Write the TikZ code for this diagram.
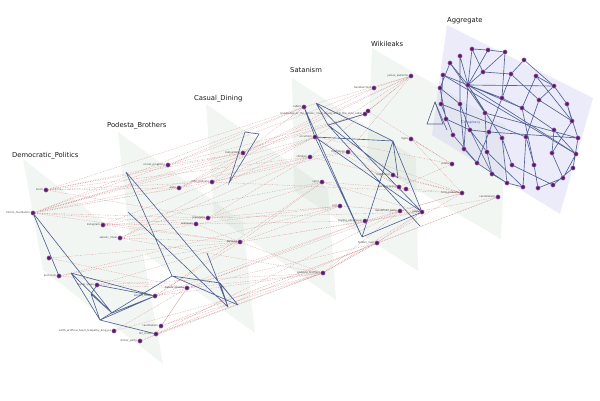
\documentclass[tikz,border=0pt]{standalone}
\usepackage{fontspec}
\setmainfont{DejaVu Sans}
\usepackage{tikz}
\usetikzlibrary{positioning}
\definecolor{layergreen}{RGB}{195,212,195}
\definecolor{agglav}{RGB}{205,205,240}
\definecolor{vtxpurple}{RGB}{88,24,105}
\definecolor{vtxring}{RGB}{150,100,170}
\definecolor{edgeblue}{RGB}{82,100,148}
\definecolor{dotred}{RGB}{214,160,160}
\definecolor{lblgray}{RGB}{70,70,70}
\definecolor{consblue}{RGB}{80,96,176}
\pgfdeclarelayer{planes}
\pgfdeclarelayer{edges}
\pgfsetlayers{planes,edges,main}
\tikzset{
    plane/.style={fill=layergreen, fill opacity=0.22, draw=none},
    aggplane/.style={fill=agglav, fill opacity=0.4, draw=none},
    vtx/.style={circle, fill=vtxpurple, draw=vtxring, line width=0.5pt, inner sep=0pt, minimum size=4.2pt},
    lbl/.style={font=\fontsize{2.6}{3}\selectfont, text=lblgray, inner sep=0.5pt},
    intra/.style={draw=edgeblue, line width=0.65pt},
    inter/.style={draw=dotred, line width=0.35pt, dash pattern=on 0.8pt off 0.9pt},
    layertitle/.style={font=\fontsize{6.8}{7.5}\selectfont, text=black!90, inner sep=0pt},
}

\begin{document}
\begin{tikzpicture}[x=1pt, y=-1pt]
    \useasboundingbox (0,0) rectangle (600,400);
    % layer planes
    \begin{pgfonlayer}{planes}
        \fill[plane] (23,159) -- (143,253) -- (163,364) -- (43,270) -- cycle;
        \fill[plane] (118,132) -- (243,222) -- (255,333) -- (130,243) -- cycle;
        \fill[plane] (206,104) -- (328,189) -- (336,300) -- (214,215) -- cycle;
        \fill[plane] (292,78) -- (416,158) -- (418,271) -- (294,191) -- cycle;
        \fill[plane] (372,48) -- (506,126) -- (501,239) -- (367,161) -- cycle;
        \fill[aggplane] (447,25) -- (593,98) -- (560,214) -- (432,135) -- cycle;
    \end{pgfonlayer}
    \coordinate (demcorner) at (23,159);
    \coordinate (podcorner) at (118,132);
    \coordinate (cascorner) at (206,104);
    \coordinate (satcorner) at (292,78);
    \coordinate (wikcorner) at (372,48);
    \coordinate (aggcorner) at (447,25);
    \node[layertitle, anchor=south west, above right=0pt and -11pt of demcorner] (demtitle) {Democratic\_Politics};
    \node[layertitle, anchor=south west, above right=2.5pt and -11pt of podcorner] (podtitle) {Podesta\_Brothers};
    \node[layertitle, anchor=south west, above right=2.2pt and -12pt of cascorner] (castitle) {Casual\_Dining};
    \node[layertitle, anchor=south west, above right=5.7pt and -2pt of satcorner] (sattitle) {Satanism};
    \node[layertitle, anchor=south west, above right=1.7pt and -1pt of wikcorner] (wiktitle) {Wikileaks};
    \node[layertitle, anchor=south west, above right=1.2pt and 0pt of aggcorner] (aggtitle) {Aggregate};

    % Democratic_Politics
    \node[vtx, label={[lbl]left:lunch}] (lunch) at (46,190) {};
    \node[vtx, label={[lbl]left:clinton\_foundation}] (clinton) at (33,213) {};
    \node[vtx, label={[lbl]left:instagram}] (instagram) at (103,225) {};
    \node[vtx, label={[lbl]left:satanic\_ritual}] (ritual) at (120,238) {};
    \node[vtx] (anon) at (49,258) {};
    \node[vtx, label={[lbl]left:protocols}] (protocols) at (59,276) {};
    \node[vtx, label={[lbl]left:higher\_stage}] (higher) at (97,285) {};
    \node[vtx, label={[lbl]left:donald\_trump}] (donald) at (155,296) {};
    \node[vtx, label={[lbl]left:cannibalism}] (canniba) at (161,326) {};
    \node[vtx, label={[lbl]left:earth\_artificial\_heart\_telepathy\_king\_pa}] (earth) at (114,331) {};
    \node[vtx, label={[lbl]left:bill\_clinton}] (bill) at (156,334) {};
    \node[vtx, label={[lbl]left:dinner\_party}] (dinner) at (140,341) {};
    \coordinate (dA) at (71,273);
    \coordinate (dB) at (91,294);
    \coordinate (dC) at (100,320);
    \coordinate (dD) at (112,313);

    % Podesta_Brothers
    \node[vtx, label={[lbl]left:comet\_pingpong}] (comet) at (168,165) {};
    \node[vtx, label={[lbl]left:alefa}] (alefa) at (179,188) {};
    \node[vtx, label={[lbl]left:john\_podesta}] (johnp) at (212,182) {};
    \node[vtx, label={[lbl]left:pizzagate}] (pizzagate) at (208,218) {};
    \node[vtx, label={[lbl]left:wikileaks}] (wleaks) at (196,224) {};
    \node[vtx, label={[lbl]left:barack\_obama}] (barack) at (187,288) {};
    \coordinate (pA) at (126,172);
    \coordinate (pB) at (172,276);
    \coordinate (pC) at (128,212);
    \coordinate (pD) at (228,307);
    \coordinate (pE) at (238,305);
    \coordinate (pF) at (207,253);
    \coordinate (pG) at (220,283);

    % Casual_Dining
    \node[vtx, label={[lbl]left:babysitting}] (blog) at (243,153) {};
    \node[vtx, label={[lbl]left:pizzeria}] (cuisine) at (240,242) {};
    \node[vtx, label={[lbl]left:podesta\_brothers}] (podbro) at (323,273) {};
    \coordinate (cA) at (245,132);
    \coordinate (cB) at (259,134);
    \coordinate (cC) at (229,183);

    % Satanism
    \node[vtx, label={[lbl]left:rabbit}] (rabbit) at (304,107) {};
    \node[vtx, label={[lbl]left:knowledge\_of\_the\_satanic\_ritual\_abuse\_within\_the\_elite\_cabal}] (knowA) at (365,114) {};
    \node[vtx] (knowB) at (368,111) {};
    \node[vtx, label={[lbl]left:handkerchief}] (handk) at (374,88) {};
    \node[vtx, label={[lbl]left:occultism}] (occult) at (315,137) {};
    \node[vtx, label={[lbl]left:hype}] (hypn) at (411,139) {};
    \node[vtx, label={[lbl]left:mythology}] (myth) at (348,152) {};
    \node[vtx, label={[lbl]left:children}] (children) at (310,157) {};
    \node[vtx, label={[lbl]left:spirit}] (spirit) at (322,182) {};
    \node[vtx, label={[lbl]left:cult}] (cult) at (340,206) {};
    \node[vtx, label={[lbl]left:marina\_abramovic}] (marina) at (365,221) {};
    \node[vtx, label={[lbl]left:hidden\_map}] (hidden) at (377,243) {};
    \coordinate (sA) at (316,103);
    \coordinate (sB) at (328,125);
    \coordinate (sC) at (393,141);
    \coordinate (sD) at (398,178);
    \coordinate (sE) at (362,237);
    \coordinate (sF) at (420,226);

    % Wikileaks
    \node[vtx, label={[lbl]left:james\_alefantis}] (james) at (411,76) {};
    \node[vtx, label={[lbl]left:baphomet}] (tamb) at (393,175) {};
    \node[vtx, label={[lbl]left:spirit\_cooking}] (spcook) at (399,187) {};
    \node[vtx] (spdin) at (406,189) {};
    \node[vtx, label={[lbl]left:republican\_party}] (repub) at (400,211) {};
    \node[vtx, label={[lbl]left:pizza}] (pizza) at (422,212) {};
    \node[vtx, label={[lbl]left:pasta}] (pasta) at (452,164) {};
    \node[vtx, label={[lbl]left:tony\_podesta}] (tony) at (462,193) {};
    \node[vtx, label={[lbl]left:cannibalism}] (cannw) at (498,197) {};
    \coordinate (wA) at (435,102);
    \coordinate (wB) at (427,124);
    \coordinate (wC) at (443,124);
    \coordinate (wD) at (447,130);

    % Aggregate
    \node[vtx] (g01) at (472,49) {};
    \node[vtx] (g02) at (488,50) {};
    \node[vtx] (g03) at (505,52) {};
    \node[vtx] (g04) at (460,56) {};
    \node[vtx] (g05) at (524,60) {};
    \node[vtx] (g06) at (450,63) {};
    \node[vtx] (g07) at (443,75) {};
    \node[vtx] (g08) at (483,72) {};
    \node[vtx] (g09) at (511,74) {};
    \node[vtx] (g10) at (536,76) {};
    \node[vtx] (g11) at (468,85) {};
    \node[vtx] (g12) at (554,86) {};
    \node[vtx] (g13) at (440,88) {};
    \node[vtx] (g14) at (502,98) {};
    \node[vtx] (g15) at (539,100) {};
    \node[vtx] (g16) at (460,104) {};
    \node[vtx] (g17) at (441,104) {};
    \node[vtx] (g18) at (567,104) {};
    \node[vtx] (g19) at (522,108) {};
    \node[vtx] (g20) at (485,113) {};
    \node[vtx] (g21) at (572,121) {};
    \node[vtx] (g22) at (446,119) {};
    \node[vtx] (g23) at (470,130) {};
    \node[vtx] (g24) at (489,132) {};
    \node[vtx] (g25) at (554,130) {};
    \node[vtx] (g26) at (453,135) {};
    \node[vtx] (g27) at (502,138) {};
    \node[vtx] (g28) at (526,137) {};
    \node[vtx] (g29) at (578,138) {};
    \node[vtx] (g30) at (464,149) {};
    \node[vtx] (g31) at (487,152) {};
    \node[vtx] (g32) at (552,153) {};
    \node[vtx] (g33) at (576,154) {};
    \node[vtx] (g34) at (477,163) {};
    \node[vtx] (g35) at (512,165) {};
    \node[vtx] (g36) at (534,165) {};
    \node[vtx] (g37) at (492,174) {};
    \node[vtx] (g38) at (573,168) {};
    \node[vtx] (g39) at (507,183) {};
    \node[vtx] (g40) at (563,178) {};
    \node[vtx] (g41) at (523,187) {};
    \node[vtx] (g42) at (538,188) {};
    \node[vtx] (g43) at (553,185) {};
    \node[font=\fontsize{3.4}{4}\selectfont, text=consblue, inner sep=0pt] (conspiracy) at (471,123) {Conspiracy};

    \begin{pgfonlayer}{edges}
        % coupling edges between layers
        \draw[inter] (clinton) -- (comet) (clinton) -- (alefa) (clinton) -- (johnp) (clinton) -- (pizzagate) (clinton) -- (blog) (clinton) -- (cuisine) (clinton) -- (occult) (clinton) -- (rabbit) (clinton) -- (children) (clinton) -- (knowA) (clinton) -- (wleaks);
        \draw[inter] (lunch) -- (comet) (lunch) -- (alefa) (lunch) -- (johnp) (lunch) -- (blog) (lunch) -- (rabbit) (lunch) -- (myth) (lunch) -- (pizzagate);
        \draw[inter] (instagram) -- (pizzagate) (instagram) -- (wleaks) (instagram) -- (cuisine) (instagram) -- (spirit) (instagram) -- (johnp);
        \draw[inter] (ritual) -- (wleaks) (ritual) -- (cuisine) (ritual) -- (podbro) (ritual) -- (occult) (ritual) -- (children);
        \draw[inter] (anon) -- (cuisine) (anon) -- (barack) (protocols) -- (barack) (protocols) -- (cuisine) (protocols) -- (cult);
        \draw[inter] (higher) -- (barack) (higher) -- (cuisine) (higher) -- (podbro) (donald) -- (barack) (donald) -- (cuisine) (donald) -- (podbro) (donald) -- (marina) (donald) -- (spirit);
        \draw[inter] (canniba) -- (barack) (canniba) -- (podbro) (canniba) -- (hidden) (canniba) -- (cannw) (bill) -- (barack) (bill) -- (podbro) (bill) -- (repub) (dinner) -- (podbro) (dinner) -- (hidden) (earth) -- (barack) (earth) -- (podbro);
        \draw[inter] (comet) -- (rabbit) (comet) -- (knowA) (comet) -- (handk) (comet) -- (blog) (alefa) -- (occult) (alefa) -- (james) (alefa) -- (blog) (johnp) -- (occult) (johnp) -- (children) (johnp) -- (myth) (johnp) -- (blog) (johnp) -- (tony);
        \draw[inter] (pizzagate) -- (children) (pizzagate) -- (spirit) (pizzagate) -- (cult) (pizzagate) -- (pizza) (wleaks) -- (cult) (wleaks) -- (marina) (wleaks) -- (cuisine) (barack) -- (marina) (barack) -- (hidden) (barack) -- (podbro) (barack) -- (repub);
        \draw[inter] (blog) -- (knowA) (blog) -- (handk) (blog) -- (rabbit) (blog) -- (james) (cuisine) -- (spirit) (cuisine) -- (cult) (cuisine) -- (marina) (cuisine) -- (podbro) (cuisine) -- (pizza) (podbro) -- (hidden) (podbro) -- (pizza) (podbro) -- (tony) (podbro) -- (repub);
        \draw[inter] (rabbit) -- (james) (handk) -- (james) (knowA) -- (james) (knowB) -- (pasta) (occult) -- (pasta) (occult) -- (spcook) (children) -- (tony) (myth) -- (tony) (myth) -- (spcook) (spirit) -- (tony) (spirit) -- (pizza) (cult) -- (repub) (cult) -- (pizza) (marina) -- (tony) (marina) -- (cannw) (hidden) -- (pizza) (hidden) -- (cannw) (hypn) -- (pasta) (hypn) -- (tony) (repub) -- (tony) (occult) -- (james) (children) -- (james) (myth) -- (james) (tamb) -- (tony) (spcook) -- (pasta);

        % edges inside the layers
        \draw[intra] (clinton) -- (protocols) (clinton) -- (dD) (dA) -- (donald) (dA) -- (dD) (dA) -- (dC) (higher) -- (donald) (higher) -- (dB) (dB) -- (dC) (dB) -- (dD) (dC) -- (donald) (dC) -- (bill) (dD) -- (donald);
        \draw[intra] (pA) -- (pB) (pA) -- (pE) (pC) -- (pD) (pB) -- (pE) (pB) -- (pG) (pF) -- (pD) (pG) -- (pD) (pG) -- (pE) (pB) -- (dC);
        \draw[intra] (cA) -- (cB) -- (cC) -- cycle;
        \draw[intra] (sA) -- (sC) (sA) -- (sB) (rabbit) -- (occult) (occult) -- (sC) (sB) -- (knowA) (sB) -- (sD) (sC) -- (sD) (sC) -- (pizza) (sA) -- (pizza) (occult) -- (pizza) (occult) -- (sE) (sE) -- (pizza) (sB) -- (sF) (sE) -- (sC) (rabbit) -- (sE);
        \draw[intra] (wA) -- (wB) -- (wC) -- cycle;
        \draw[intra] (wA) -- (wD);
        \draw[intra] (g01) -- (g02) (g02) -- (g03) (g01) -- (g11) (g01) -- (g08) (g02) -- (g11) (g03) -- (g08) (g03) -- (g14) (g04) -- (g11) (g04) -- (g16) (g05) -- (g12) (g05) -- (g09) (g06) -- (g11) (g06) -- (g13) (g07) -- (g11) (g07) -- (g17);
        \draw[intra] (g08) -- (g09) (g08) -- (g11) (g09) -- (g14) (g09) -- (g15) (g10) -- (g12) (g10) -- (g21) (g10) -- (g19) (g11) -- (g12) (g11) -- (g14) (g11) -- (g19) (g11) -- (g20) (g11) -- (g27) (g11) -- (g30) (g11) -- (g33);
        \draw[intra] (g12) -- (g15) (g12) -- (g18) (g13) -- (g22) (g13) -- (g16) (g14) -- (g19) (g14) -- (g24) (g15) -- (g21) (g15) -- (g28) (g16) -- (g23) (g16) -- (g30) (g17) -- (g26) (g18) -- (g21) (g18) -- (g29) (g19) -- (g25) (g19) -- (g36);
        \draw[intra] (g20) -- (g31) (g20) -- (g29) (g21) -- (g32) (g22) -- (g23) (g23) -- (g24) (g23) -- (g31) (g23) -- (g37) (g24) -- (g29) (g24) -- (g34) (g25) -- (g32) (g25) -- (g33) (g26) -- (g34) (g27) -- (g35) (g27) -- (g39) (g28) -- (g36);
        \draw[intra] (g28) -- (g41) (g29) -- (g38) (g30) -- (g34) (g31) -- (g37) (g31) -- (g41) (g32) -- (g40) (g33) -- (g40) (g34) -- (g39) (g35) -- (g43) (g36) -- (g42) (g37) -- (g39) (g38) -- (g43) (g39) -- (g41) (g40) -- (g42) (g07) -- (g33) (g17) -- (g28) (g06) -- (g20);
    \end{pgfonlayer}
\end{tikzpicture}
\end{document}
